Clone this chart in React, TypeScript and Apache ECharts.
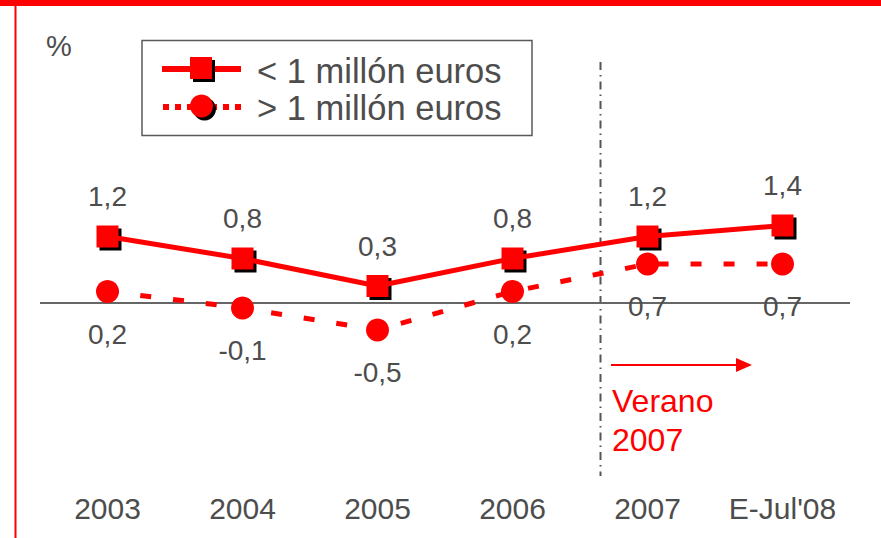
import React, { useEffect, useRef } from "react";
import * as echarts from "echarts";

const categories = ["2003", "2004", "2005", "2006", "2007", "E-Jul'08"];
const smallFirms = [1.2, 0.8, 0.3, 0.8, 1.2, 1.4];
const largeFirms = [0.2, -0.1, -0.5, 0.2, 0.7, 0.7];
const legendNames = ["< 1 millón euros", "> 1 millón euros"];
const unitLabel = "%";
const noteLines = ["Verano", "2007"];

const RED = "#ff0000";
const GRAY = "#4d4d4d";
const FONT = "'Liberation Sans', Arial, Helvetica, sans-serif";
const fmt = (v: number) => String(v).replace(".", ",");

export default function App() {
  const ref = useRef<HTMLDivElement>(null);
  useEffect(() => {
    if (!ref.current) return;
    const chart = echarts.init(ref.current, undefined, { renderer: "svg" });
    chart.setOption({
      animation: false,
      backgroundColor: "#ffffff",
      textStyle: { fontFamily: FONT },
      grid: { left: 40, right: 31, top: 137.5, bottom: 70.5 },
      xAxis: {
        type: "category",
        data: categories,
        boundaryGap: true,
        axisLine: { show: false },
        axisTick: { show: false },
        splitLine: { show: false },
        axisLabel: { interval: 0, fontSize: 30, color: GRAY, margin: 26, fontFamily: FONT },
      },
      yAxis: {
        type: "value",
        min: -3,
        max: 3,
        show: false,
        splitLine: { show: false },
      },
      series: [
        {
          name: "shadow",
          type: "line",
          data: smallFirms,
          symbol: "rect",
          symbolSize: 22,
          symbolOffset: [3, 3],
          showAllSymbol: true,
          itemStyle: { color: "#000000" },
          lineStyle: { width: 0, opacity: 0 },
          silent: true,
          z: 3,
        },
        {
          name: legendNames[0],
          type: "line",
          data: smallFirms,
          symbol: "rect",
          symbolSize: 22,
          showAllSymbol: true,
          itemStyle: { color: RED },
          lineStyle: { color: RED, width: 5 },
          label: {
            show: true,
            position: "top",
            distance: 15,
            fontSize: 28,
            color: GRAY,
            fontFamily: FONT,
            formatter: (p: any) => fmt(p.value),
          },
          z: 4,
        },
        {
          name: legendNames[1],
          type: "line",
          data: largeFirms,
          symbol: "circle",
          symbolSize: 23,
          showAllSymbol: true,
          itemStyle: { color: RED },
          lineStyle: { color: RED, width: 5, type: [11, 22] },
          label: {
            show: true,
            position: "bottom",
            distance: 17,
            fontSize: 28,
            color: GRAY,
            fontFamily: FONT,
            formatter: (p: any) => fmt(p.value),
          },
          markLine: {
            silent: true,
            symbol: "none",
            label: { show: false },
            lineStyle: { color: "#666666", width: 2, type: "solid" },
            data: [{ yAxis: 0 }],
            z: 1,
          },
          z: 2,
        },
      ],
      graphic: [
        { type: "rect", shape: { x: 0, y: 0, width: 881, height: 6 }, style: { fill: RED } },
        { type: "rect", shape: { x: 14.5, y: 0, width: 2, height: 538 }, style: { fill: RED } },
        {
          type: "text",
          style: { text: unitLabel, x: 46, y: 46, font: `29px ${FONT}`, fill: GRAY, verticalAlign: "middle" },
        },
        {
          type: "rect",
          shape: { x: 142, y: 40.5, width: 390, height: 95 },
          style: { fill: "#ffffff", stroke: "#5a5a5a", lineWidth: 1.5 },
          z: 10,
        },
        {
          type: "line",
          shape: { x1: 162, y1: 69, x2: 241, y2: 69 },
          style: { stroke: RED, lineWidth: 6 },
          z: 11,
        },
        { type: "rect", shape: { x: 193, y: 60, width: 22, height: 22 }, style: { fill: "#000000" }, z: 11 },
        { type: "rect", shape: { x: 190, y: 57, width: 22, height: 22 }, style: { fill: RED }, z: 12 },
        {
          type: "line",
          shape: { x1: 163, y1: 107, x2: 241, y2: 107 },
          style: { stroke: RED, lineWidth: 6, lineDash: [6, 6] },
          z: 11,
        },
        { type: "circle", shape: { cx: 204.5, cy: 109, r: 11.5 }, style: { fill: "#000000" }, z: 11 },
        { type: "circle", shape: { cx: 201.5, cy: 106, r: 11.5 }, style: { fill: RED }, z: 12 },
        {
          type: "text",
          style: { text: legendNames[0], x: 257, y: 71, font: `34.5px ${FONT}`, fill: GRAY, verticalAlign: "middle" },
          z: 12,
        },
        {
          type: "text",
          style: { text: legendNames[1], x: 257, y: 108, font: `34.5px ${FONT}`, fill: GRAY, verticalAlign: "middle" },
          z: 12,
        },
        {
          type: "line",
          shape: { x1: 600.5, y1: 62, x2: 600.5, y2: 476 },
          style: { stroke: "#555555", lineWidth: 2, lineDash: [8, 5, 1.5, 5] },
          z: 1,
        },
        {
          type: "line",
          shape: { x1: 611, y1: 365, x2: 740, y2: 365 },
          style: { stroke: RED, lineWidth: 2 },
        },
        {
          type: "polygon",
          shape: { points: [[736, 358], [752, 365], [736, 372]] },
          style: { fill: RED },
        },
        {
          type: "text",
          style: { text: noteLines[0], x: 612, y: 401, font: `32px ${FONT}`, fill: RED, verticalAlign: "middle" },
        },
        {
          type: "text",
          style: { text: noteLines[1], x: 612, y: 440, font: `32px ${FONT}`, fill: RED, verticalAlign: "middle" },
        },
      ],
    });
    return () => chart.dispose();
  }, []);
  return (
    <div
      ref={ref}
      style={{ position: "fixed", left: 0, top: 0, width: 881, height: 538, background: "#fff" }}
    />
  );
}
